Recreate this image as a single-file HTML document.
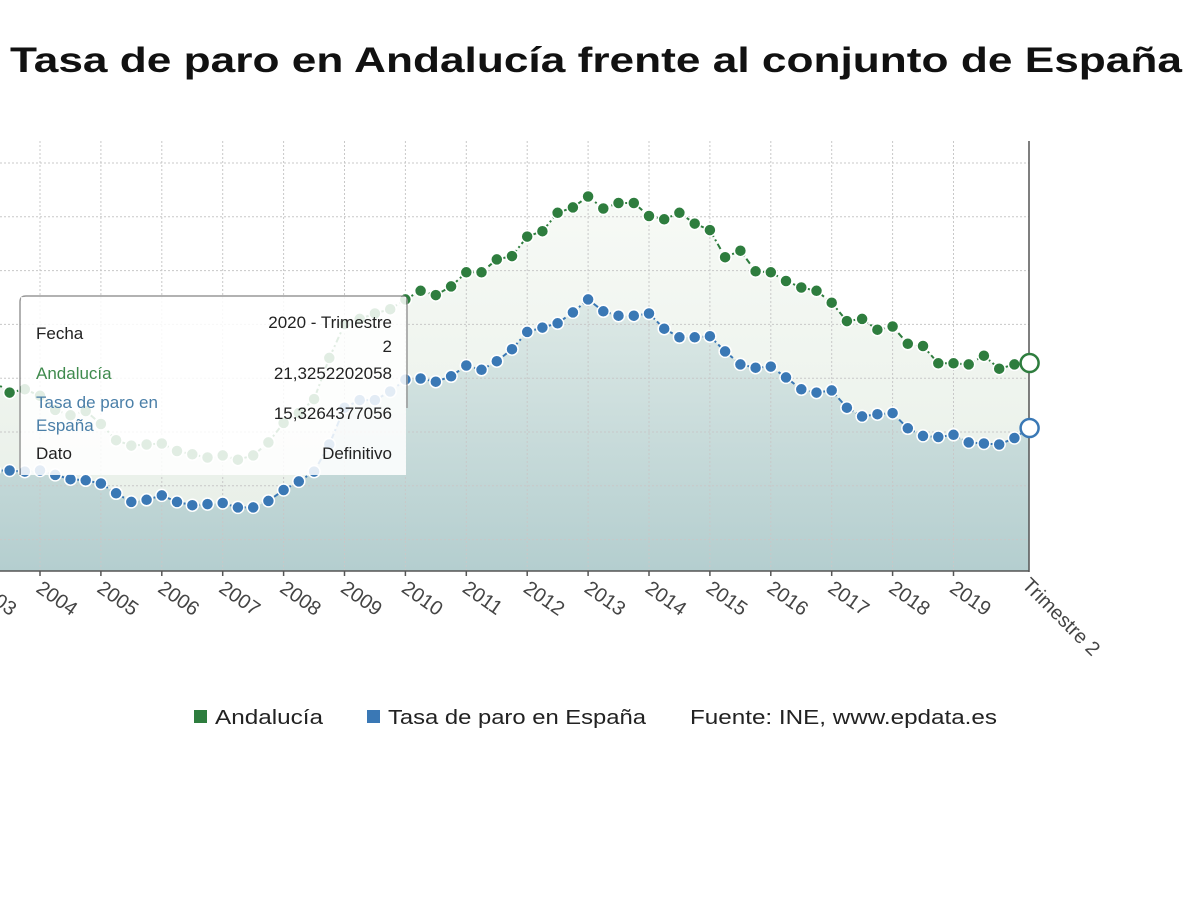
<!DOCTYPE html>
<html><head><meta charset="utf-8"><style>
html,body{margin:0;padding:0;background:#fff;width:1200px;height:900px;overflow:hidden}
svg{display:block}
text{font-family:"Liberation Sans","DejaVu Sans",sans-serif}
</style></head><body>
<svg id="s" width="1200" height="900" viewBox="0 0 1200 900" xmlns="http://www.w3.org/2000/svg">
<defs>
<linearGradient id="ga" x1="0" y1="0" x2="0" y2="1">
<stop offset="0" stop-color="#f7faf6"/><stop offset="1" stop-color="#e6eee6"/></linearGradient>
<linearGradient id="gb" x1="0" y1="0" x2="0" y2="1">
<stop offset="0" stop-color="#dde9e6"/><stop offset="1" stop-color="#b4cecf"/></linearGradient>
</defs>
<text x="596" y="72" text-anchor="middle" font-size="35" font-weight="bold" fill="#111" textLength="1172" lengthAdjust="spacingAndGlyphs">Tasa de paro en Andalucía frente al conjunto de España</text>
<g id="g"></g>
<g font-size="20" fill="#222">
<rect x="194" y="710" width="13" height="13" fill="#2e7d3e"/>
<text x="215" y="724" textLength="108" lengthAdjust="spacingAndGlyphs">Andalucía</text>
<rect x="367" y="710" width="13" height="13" fill="#3a78b5"/>
<text x="388" y="724" textLength="258" lengthAdjust="spacingAndGlyphs">Tasa de paro en España</text>
<text x="690" y="724" textLength="307" lengthAdjust="spacingAndGlyphs">Fuente: INE, www.epdata.es</text>
</g>
</svg>
<script>
var A=[20.0,19.6,18.6,18.9,18.3,17.0,16.5,16.9,15.7,14.2,13.7,13.8,13.9,13.2,12.9,12.6,12.8,12.4,12.8,14.0,15.8,16.7,18.0,21.8,24.9,25.4,25.9,26.3,27.2,28.0,27.6,28.4,29.7,29.7,30.9,31.2,33.0,33.5,35.2,35.7,36.7,35.6,36.1,36.1,34.9,34.6,35.2,34.2,33.6,31.1,31.7,29.8,29.7,28.9,28.3,28.0,26.9,25.2,25.4,24.4,24.7,23.1,22.9,21.3,21.3,21.2,22.0,20.8,21.2,21.33];
var B=[11.7,11.4,11.4,11.3,11.4,11.0,10.6,10.5,10.2,9.3,8.5,8.7,9.1,8.5,8.2,8.3,8.4,8.0,8.0,8.6,9.6,10.4,11.3,13.8,17.2,17.9,17.9,18.7,19.8,19.9,19.6,20.1,21.1,20.7,21.5,22.6,24.2,24.6,25.0,26.0,27.2,26.1,25.7,25.7,25.9,24.5,23.7,23.7,23.8,22.4,21.2,20.9,21.0,20.0,18.9,18.6,18.8,17.2,16.4,16.6,16.7,15.3,14.6,14.5,14.7,14.0,13.9,13.8,14.4,15.33];
function X(i){return 40+60.9*((2003+i*0.25)-2004);}
function Y(v){return 594-v*10.83;}
var h='';
var base=571,xr=1029;
function pts(D){return D.map(function(v,i){return X(i).toFixed(1)+','+Y(v).toFixed(1);});}
var pa=pts(A),pb=pts(B);
h+='<path d="M'+X(0)+','+base+' L'+pa.join(' L')+' L'+xr+','+base+'Z" fill="url(#ga)"/>';
h+='<path d="M'+X(0)+','+base+' L'+pb.join(' L')+' L'+xr+','+base+'Z" fill="url(#gb)"/>';
for(var y=163;y<570;y+=53.8){h+='<line x1="0" x2="'+xr+'" y1="'+y.toFixed(1)+'" y2="'+y.toFixed(1)+'" stroke="#c8c8c8" stroke-width="1" stroke-dasharray="2,2"/>';}
for(var yr=2004;yr<=2019;yr++){var x=40+60.9*(yr-2004);h+='<line x1="'+x+'" x2="'+x+'" y1="141" y2="571" stroke="#c8c8c8" stroke-width="1" stroke-dasharray="2,2"/>';}
h+='<line x1="'+xr+'" x2="'+xr+'" y1="141" y2="572" stroke="#555" stroke-width="1.5"/>';
h+='<line x1="0" x2="'+xr+'" y1="571" y2="571" stroke="#555" stroke-width="1.5"/>';
for(var yr=2003;yr<=2019;yr++){var x=40+60.9*(yr-2004);
 h+='<line x1="'+x+'" x2="'+x+'" y1="571" y2="576" stroke="#555" stroke-width="1.5"/>';
 h+='<text transform="translate('+(x-5)+',591) rotate(35)" font-size="20" fill="#444">'+yr+'</text>';}
h+='<text transform="translate('+(xr-8)+',586) rotate(45)" font-size="20" fill="#444">Trimestre 2</text>';
h+='<polyline points="'+pa.join(' ')+'" fill="none" stroke="#2e7d3e" stroke-width="2" stroke-dasharray="6,3,2,3"/>';
h+='<polyline points="'+pb.join(' ')+'" fill="none" stroke="#3a78b5" stroke-width="2" stroke-dasharray="6,3,2,3"/>';
function dots(D,c){for(var i=0;i<D.length-1;i++){h+='<circle cx="'+X(i).toFixed(1)+'" cy="'+Y(D[i]).toFixed(1)+'" r="6" fill="'+c+'" stroke="#fff" stroke-width="1.5"/>';}
 var n=D.length-1;h+='<circle cx="'+X(n).toFixed(1)+'" cy="'+Y(D[n]).toFixed(1)+'" r="9" fill="#fff" stroke="'+c+'" stroke-width="2.5"/>';}
dots(A,'#2e7d3e');dots(B,'#3a78b5');
h+='<path d="M20,475 L20,302 Q20,296 26,296 L401,296 Q407,296 407,302 L407,408" fill="none" stroke="#999" stroke-width="1.5"/>';
h+='<rect x="21" y="297" width="385" height="178" fill="#fff" fill-opacity="0.86"/>';
h+='<g font-size="17"><text x="36" y="339" fill="#222">Fecha</text>';
h+='<text x="392" y="328" text-anchor="end" fill="#222">2020 - Trimestre</text><text x="392" y="352" text-anchor="end" fill="#222">2</text>';
h+='<text x="36" y="379" fill="#3f8a4d">Andalucía</text><text x="392" y="379" text-anchor="end" fill="#222">21,3252202058</text>';
h+='<text x="36" y="408" fill="#4a7fa8">Tasa de paro en</text><text x="36" y="431" fill="#4a7fa8">España</text><text x="392" y="419" text-anchor="end" fill="#222">15,3264377056</text>';
h+='<text x="36" y="459" fill="#222">Dato</text><text x="392" y="459" text-anchor="end" fill="#222">Definitivo</text></g>';
document.getElementById('g').innerHTML=h;
</script>
</body></html>
